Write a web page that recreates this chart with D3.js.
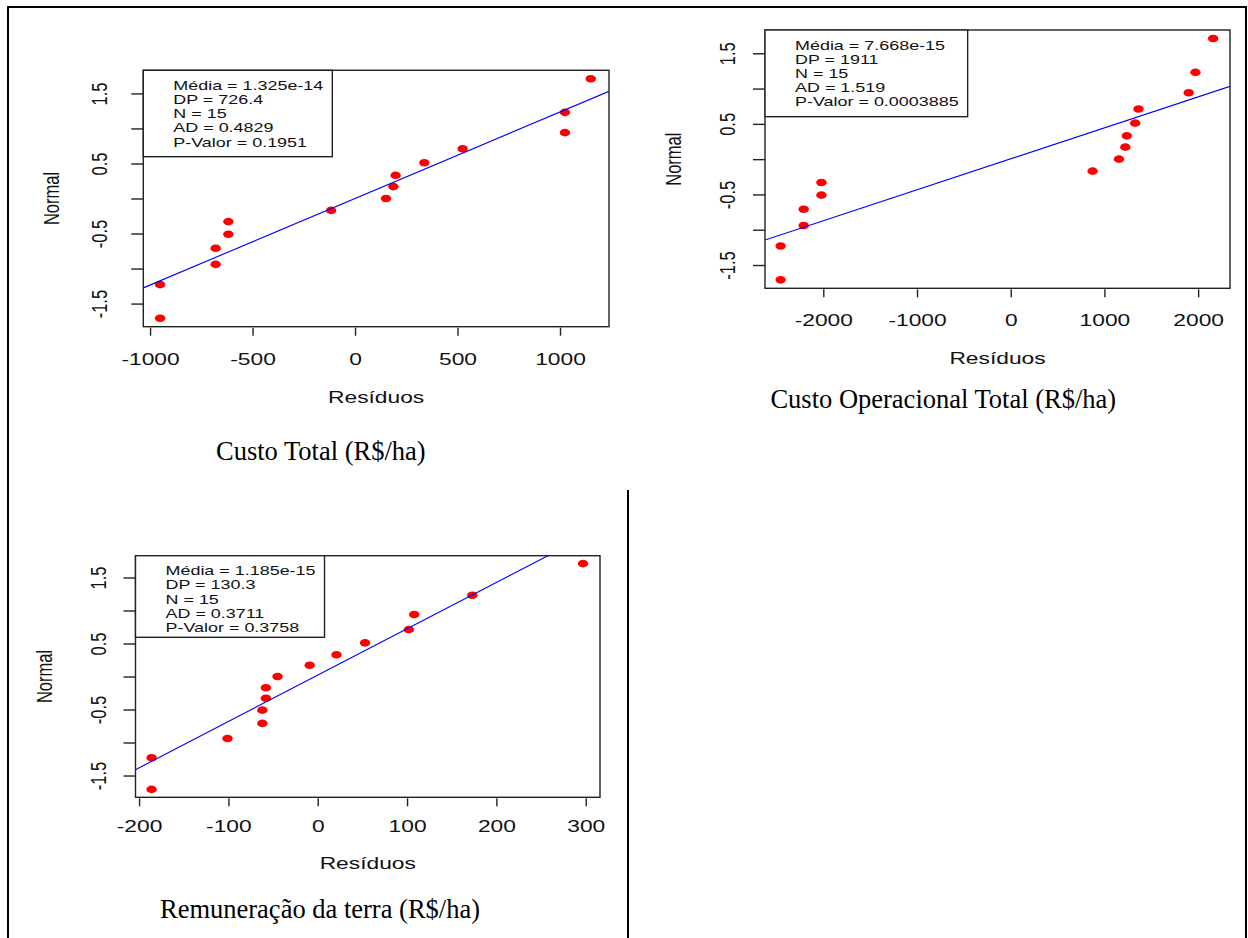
<!DOCTYPE html>
<html>
<head>
<meta charset="utf-8">
<script src="https://cdn.jsdelivr.net/npm/d3@7"></script>
<style>
  body { margin: 0; background: #fff; }
  svg { display: block; }
  .sans { font-family: "Liberation Sans", Arial, sans-serif; fill: #111; }
  .serif { font-family: "Liberation Serif", "Times New Roman", serif; fill: #000; }
</style>
</head>
<body>
<svg id="fig" width="1248" height="938"></svg>
<script>
// normal scores (theoretical quantiles), same for the three samples (n = 15)
const normalScores = [1.71, 1.23, 0.94, 0.71, 0.51, 0.33, 0.17, 0, -0.17, -0.33, -0.51, -0.71, -0.94, -1.23, -1.71];

// residuals
const custoTotalResid = [1150, 1024, 1024, 525, 338, 198, 187, 151, -117, -618, -618, -680, -680, -951, -951];
const custoOperResid = [2160, 1971, 1899, 1364, 1328, 1239, 1223, 1155, 874, -2020, -2020, -2209, -2209, -2455, -2455];
const remTerraResid = [297, 173, 108, 102, 53, 21, -9, -45, -58, -58, -62, -62, -101, -186, -186];

// legend lines
const custoTotalStats = ["Média = 1.325e-14", "DP = 726.4", "N = 15", "AD = 0.4829", "P-Valor = 0.1951"];
const custoOperStats = ["Média = 7.668e-15", "DP = 1911", "N = 15", "AD = 1.519", "P-Valor = 0.0003885"];
const remTerraStats = ["Média = 1.185e-15", "DP = 130.3", "N = 15", "AD = 0.3711", "P-Valor = 0.3758"];

// reference line [intercept, slope]
const custoTotalLine = [0, 0.001235];
const custoOperLine = [0.005, 0.000439];
const remTerraLine = [0.02, 0.00702];

// axis ticks
const custoTotalTicks = [-1000, -500, 0, 500, 1000];
const custoOperTicks = [-2000, -1000, 0, 1000, 2000];
const remTerraTicks = [-200, -100, 0, 100, 200, 300];
const yTicks = [-1.5, -1, -0.5, 0, 0.5, 1, 1.5];
const yTickLabels = ["-1.5", "", "-0.5", "", "0.5", "", "1.5"];

const captions = ["Custo Total (R$/ha)", "Custo Operacional Total (R$/ha)", "Remuneração da terra (R$/ha)"];

const S = 1.38;          // the R pictures are stretched sideways
const yDomain = [-1.83, 1.83];

const panels = [
  { resid: custoTotalResid, stats: custoTotalStats, line: custoTotalLine, ticks: custoTotalTicks,
    xDomain: [-1033, 1239], box: [143.3, 70.3, 609, 326.7], tickLab: 38, xTitle: 76.5, ytl: 36,
    legH: 86.4, cap: [320.8, 460] },
  { resid: custoOperResid, stats: custoOperStats, line: custoOperLine, ticks: custoOperTicks,
    xDomain: [-2622, 2340], box: [765, 30, 1230, 288.3], tickLab: 38, xTitle: 76, ytl: 30,
    legH: 86.7, cap: [943.3, 408.3] },
  { resid: remTerraResid, stats: remTerraStats, line: remTerraLine, ticks: remTerraTicks,
    xDomain: [-204, 316], box: [135.5, 555.7, 600, 797.3], tickLab: 35, xTitle: 71.7, ytl: 30,
    legH: 81.6, cap: [320, 918.3] }
];

const svg = d3.select("#fig");
svg.append("rect").attr("width", 1248).attr("height", 938).attr("fill", "#fff");

// table frame
const frame = svg.append("g").attr("stroke", "#000").attr("stroke-width", 2).attr("fill", "none");
frame.append("path").attr("d", "M8,938 V7 H1246 V938 M628,490 V938");

panels.forEach((p, i) => {
  const [x0, y0, x1, y1] = p.box;
  const x = d3.scaleLinear().domain(p.xDomain).range([x0, x1]);
  const y = d3.scaleLinear().domain(yDomain).range([y1, y0]);
  const g = svg.append("g");

  g.append("clipPath").attr("id", "clip" + i)
    .append("rect").attr("x", x0).attr("y", y0).attr("width", x1 - x0).attr("height", y1 - y0);

  // points
  g.selectAll("ellipse")
    .data(p.resid.map((r, k) => ({ r: r, z: normalScores[k] })))
    .join("ellipse")
    .attr("cx", d => x(d.r))
    .attr("cy", d => y(d.z))
    .attr("rx", 5.2)
    .attr("ry", 3.8)
    .attr("fill", "#ff0000");

  // reference line
  const [a, b] = p.line;
  g.append("line")
    .attr("clip-path", `url(#clip${i})`)
    .attr("x1", x(p.xDomain[0])).attr("y1", y(a + b * p.xDomain[0]))
    .attr("x2", x(p.xDomain[1])).attr("y2", y(a + b * p.xDomain[1]))
    .attr("stroke", "#0000ff").attr("stroke-width", 1.1);

  // box
  g.append("rect")
    .attr("x", x0).attr("y", y0).attr("width", x1 - x0).attr("height", y1 - y0)
    .attr("fill", "none").attr("stroke", "#222").attr("stroke-width", 1.4);

  // x axis
  const xa = g.append("g")
    .attr("transform", `translate(0,${y1 + 1})`)
    .call(d3.axisBottom(x).tickValues(p.ticks).tickSize(8).tickSizeOuter(0).tickFormat(d => String(d)));
  xa.select(".domain").remove();
  xa.selectAll("line").attr("stroke", "#222").attr("stroke-width", 1.4);
  xa.selectAll("text")
    .attr("class", "sans")
    .attr("y", p.tickLab - 1).attr("dy", null)
    .attr("font-size", 16.5)
    .attr("transform", `scale(${S},1)`);
  xa.attr("font-family", null).attr("font-size", null);

  // y axis
  const ya = g.append("g")
    .attr("transform", `translate(${x0},0)`)
    .call(d3.axisLeft(y).tickValues(yTicks).tickSize(12).tickSizeOuter(0)
      .tickFormat((d, k) => yTickLabels[k]));
  ya.select(".domain").remove();
  ya.selectAll("line").attr("stroke", "#222").attr("stroke-width", 1.4);
  ya.selectAll("text")
    .attr("class", "sans")
    .attr("x", null).attr("dy", null)
    .attr("text-anchor", "middle")
    .attr("font-size", 16.5)
    .attr("transform", `translate(${-p.ytl},0) scale(${S},1) rotate(-90)`);
  ya.attr("font-family", null).attr("font-size", null);

  // axis titles
  g.append("text").attr("class", "sans")
    .attr("font-size", 16.5).attr("text-anchor", "middle")
    .attr("transform", `translate(${(x0 + x1) / 2},${y1 + p.xTitle}) scale(${S},1)`)
    .text("Resíduos");
  g.append("text").attr("class", "sans")
    .attr("font-size", 16.5).attr("text-anchor", "middle")
    .attr("transform", `translate(${x0 - 84},${(y0 + y1) / 2}) scale(${S},1) rotate(-90)`)
    .text("Normal");

  // legend
  const leg = g.append("g");
  const legRect = leg.append("rect")
    .attr("x", x0).attr("y", y0).attr("height", p.legH)
    .attr("fill", "#fff").attr("stroke", "#222").attr("stroke-width", 1.4);
  const lines = leg.selectAll("text").data(p.stats).join("text")
    .attr("class", "sans")
    .attr("font-size", 13)
    .attr("transform", (d, k) => `translate(${x0 + 30},${y0 + 19.5 + k * 14.2}) scale(${S},1)`)
    .text(d => d);
  let wmax = 0;
  lines.each(function () { wmax = Math.max(wmax, this.getComputedTextLength()); });
  legRect.attr("width", 30 + wmax * S + 9);

  // caption under the picture
  svg.append("text").attr("class", "serif")
    .attr("x", p.cap[0]).attr("y", p.cap[1])
    .attr("font-size", 26.5).attr("text-anchor", "middle")
    .text(captions[i]);
});
</script>
</body>
</html>
